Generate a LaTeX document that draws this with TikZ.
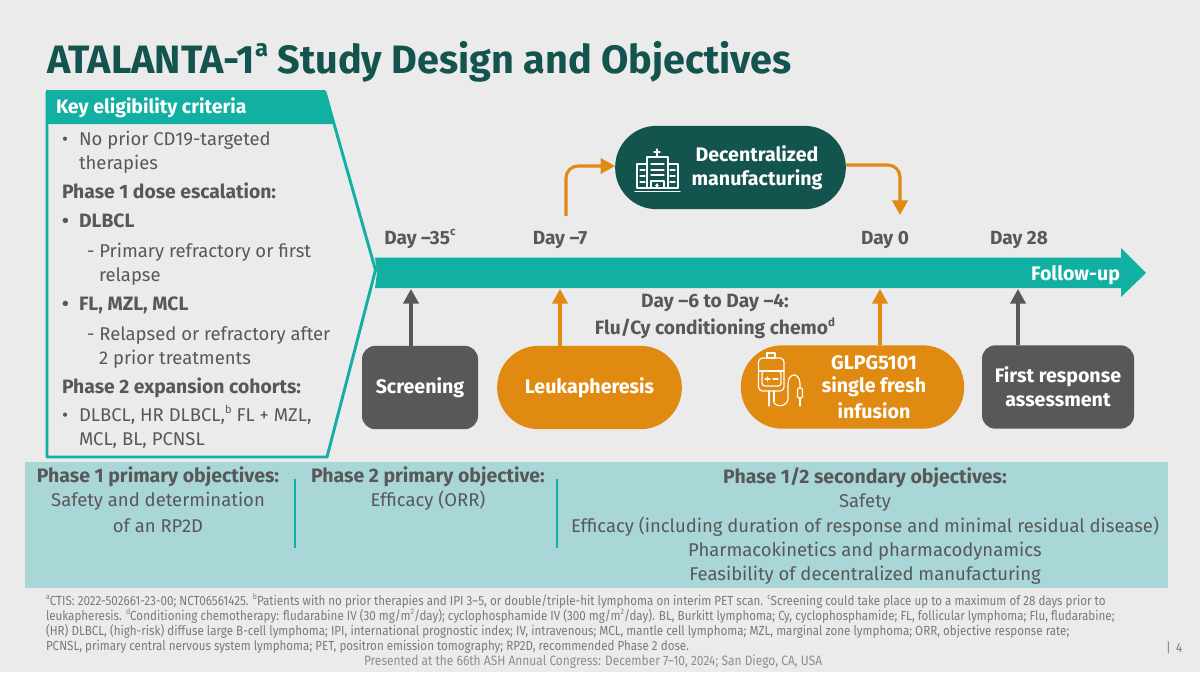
\documentclass[tikz,border=0pt]{standalone}
\usepackage{fontspec}
\setmainfont{Fira Sans}
\newfontfamily\notefont{Fira Sans}[FakeStretch=0.88]
\usetikzlibrary{arrows.meta}
\definecolor{bgc}{HTML}{EBEBEB}
\definecolor{tealc}{HTML}{12AFA3}
\definecolor{darkc}{HTML}{14544F}
\definecolor{orangec}{HTML}{E08A12}
\definecolor{grayc}{HTML}{58585A}
\definecolor{bandc}{HTML}{A9D6D6}
\definecolor{notec}{HTML}{7A7A7C}
\definecolor{footc}{HTML}{8E8E90}
\newcommand{\fs}[1]{\fontsize{#1}{#1}\selectfont}
\newcommand{\sups}[1]{\raisebox{0.42em}{\scalebox{0.6}{#1}}}
\tikzset{
 x=0.75pt,y=-0.75pt,
 txt/.style={inner sep=0,outer sep=0,text=grayc,align=center,font=\fs{13.85}},
 crit/.style={txt,anchor=base west,align=left},
 critb/.style={crit,font=\fs{14.5}\bfseries},
 obj/.style={txt,anchor=base},
 objb/.style={obj,font=\fs{14.6}\bfseries},
 daylab/.style={txt,anchor=base,font=\fs{14.3}\bfseries},
 note/.style={inner sep=0,outer sep=0,anchor=base west,text=notec,font=\fs{9.9}\notefont},
 pilltext/.style={inner sep=0,outer sep=0,text=white,align=center,font=\fs{14.7}\bfseries},
 graybox/.style={fill=grayc,draw=none,rounded corners=10pt,inner sep=0,outer sep=0,minimum height=62.5pt},
 oranpill/.style={fill=orangec,draw=none,rounded corners=31pt,inner sep=0,outer sep=0,minimum height=62.5pt},
 upg/.style={draw=grayc,line width=2.3pt,-{Triangle[length=11pt,width=11.5pt]}},
 upo/.style={draw=orangec,line width=2.3pt,-{Triangle[length=11pt,width=11.5pt]}},
 icon/.style={draw=white!90!bgc,line width=0.9pt,line join=round,line cap=round},
}
\begin{document}
\begin{tikzpicture}
\useasboundingbox (0,0) rectangle (1200,672);
\fill[bgc] (0,0) rectangle (1200,672);

% title
\node[inner sep=0,outer sep=0,anchor=base west,text=darkc,font=\fs{29.7}\bfseries] (title) at (47,73) {ATALANTA-1\sups{a} Study Design and Objectives};

% panel
\draw[tealc,line width=2.2pt,line join=round] (47,92) -- (325,92) -- (375.5,270) -- (327,457) -- (47,457) -- cycle;
\fill[tealc] (46,90) -- (325,90) -- (334,124) -- (46,124) -- cycle;
\node[inner sep=0,outer sep=0,anchor=base west,text=white,font=\fs{14.6}\bfseries] (keyh) at (56,113.5) {Key eligibility criteria};

\node[crit] (b1) at (62,145) {•};
\node[crit] (c1) at (79,145) {No prior CD19-targeted};
\node[crit] (c1b) at (79,169) {therapies};
\node[critb] (c2) at (62,198) {Phase 1 dose escalation:};
\node[critb] (b3) at (62,227) {•};
\node[critb] (c3) at (79,227) {DLBCL};
\node[crit] (c4) at (87,257) {- Primary refractory or first};
\node[crit] (c4b) at (99,281) {relapse};
\node[critb] (b5) at (62,310) {•};
\node[critb] (c5) at (79,310) {FL, MZL, MCL};
\node[crit] (c6) at (87,340) {- Relapsed or refractory after};
\node[crit] (c6b) at (99,364) {2 prior treatments};
\node[critb] (c7) at (62,393) {Phase 2 expansion cohorts:};
\node[crit] (b8) at (62,421) {•};
\node[crit] (c8) at (79,421) {DLBCL, HR DLBCL,\sups{b} FL + MZL,};
\node[crit] (c8b) at (79,445) {MCL, BL, PCNSL};

% timeline
\fill[tealc] (375,257.5) -- (1121,257.5) -- (1121,248) -- (1146,273) -- (1121,297) -- (1121,288) -- (375,288) -- (377,273) -- cycle;
\node[inner sep=0,outer sep=0,anchor=base east,text=white,font=\fs{14.7}\bfseries] (fu) at (1120,280) {Follow-up};
\coordinate (t1) at (411,289);
\coordinate (t2) at (560,289);
\coordinate (t3) at (880,289);
\coordinate (t4) at (1018,289);
\coordinate (t5) at (566,216);
\coordinate (t6) at (900,215);

\node[daylab] (d1) at (420,244) {Day –35\sups{c}};
\node[daylab] (d2) at (560,244) {Day –7};
\node[daylab] (d3) at (885,244) {Day 0};
\node[daylab] (d4) at (1019,244) {Day 28};
\node[txt,font=\fs{14.4}\bfseries,anchor=center] (cond) at (715,316.5) {Day –6 to Day –4:\\[3pt]Flu/Cy conditioning chemo\sups{d}};

% boxes
\node[graybox,minimum width=87pt] (scr) at (420,387.5) {};
\node[pilltext] at (scr) {Screening};
\node[oranpill,minimum width=138.5pt] (leu) at (589.5,387.5) {};
\node[pilltext] at (leu) {Leukapheresis};
\node[oranpill,minimum width=167.5pt] (inf) at (852.5,387) {};
\node[pilltext] (inft) at (874,387) {GLPG5101\\[3pt]single fresh\\[3pt]infusion};
\node[graybox,minimum width=114pt] (fra) at (1058,387) {};
\node[pilltext] at (fra) {First response\\[3pt]assessment};
\node[fill=darkc,draw=none,rounded corners=31pt,inner sep=0,outer sep=0,minimum width=173pt,minimum height=62.5pt] (dm) at (730.5,167.5) {};
\node[pilltext] (dmt) at (757,167.5) {Decentralized\\[3pt]manufacturing};

% connectors
\draw[upg] (scr.north -| t1) -- (t1);
\draw[upo] (leu.north -| t2) -- (t2);
\draw[upo] (inf.north -| t3) -- (t3);
\draw[upg] (fra.north -| t4) -- (t4);
\draw[upo,rounded corners=9pt] (t5) -- (566,166) -- (dm.west |- 0,166);
\draw[upo,rounded corners=9pt] (dm.east |- 0,165) -- (900,165) -- (t6);

% hospital icon
\begin{scope}[icon]
 \draw (635,191.5) -- (680,191.5);
 \draw (637,188) -- (678,188);
 \draw (637,188) -- (637,164) -- (647,164) -- (647,188);
 \draw (678,188) -- (678,164) -- (668,164) -- (668,188);
 \draw (647,188) -- (647,157) -- (668,157) -- (668,188);
 \draw (651,164) -- (664,164) (651,170) -- (664,170) (651,175) -- (664,175);
 \draw (640,170) -- (645,170) (640,176) -- (645,176) (640,182) -- (645,182);
 \draw (670,170) -- (675,170) (670,176) -- (675,176) (670,182) -- (675,182);
 \draw (651,188) -- (651,181) -- (664,181) -- (664,188);
 \draw (657,184) -- (657,187) (655.5,185.5) -- (658.5,185.5);
 \draw (657,157) -- (657,155) (654,152) -- (660,152) (657,149) -- (657,155);
\end{scope}

% infusion icon
\begin{scope}[icon]
 \draw (767,353) rectangle (775,358);
 \draw[rounded corners=3pt] (758.5,358) rectangle (784,391);
 \draw (759,371) -- (784,371);
 \draw[rounded corners=2pt] (762,371) rectangle (781,386);
 \draw (765,379) -- (770,379) (767.5,377) -- (767.5,381) (773,379) -- (778,379);
 \draw (769,391) -- (769,406) (774,391) -- (774,402);
 \draw (774,403) .. controls (779,408) and (788,406) .. (788,398) -- (788,384) .. controls (788,372) and (800,372) .. (800,384) -- (800,388);
 \draw[rounded corners=1pt] (797.5,388) rectangle (802.5,398);
 \draw (800,398) -- (800,406);
\end{scope}

% band
\fill[bandc] (25,462) rectangle (1168,588);
\draw[tealc,line width=1pt] (295,479) -- (295,548);
\draw[tealc,line width=1pt] (557,479) -- (557,548);
\node[objb] (o1) at (158,482) {Phase 1 primary objectives:};
\node[obj] (o1a) at (158,506) {Safety and determination};
\node[obj] (o1b) at (158,532) {of an RP2D};
\node[objb] (o2) at (428,482) {Phase 2 primary objective:};
\node[obj] (o2a) at (428,506) {Efficacy (ORR)};
\node[objb] (o3) at (865,483) {Phase 1/2 secondary objectives:};
\node[obj] (o3a) at (865,507) {Safety};
\node[obj] (o3b) at (865,532) {Efficacy (including duration of response and minimal residual disease)};
\node[obj] (o3c) at (865,556) {Pharmacokinetics and pharmacodynamics};
\node[obj] (o3d) at (865,580) {Feasibility of decentralized manufacturing};

% footnotes
\node[note] (n1) at (46,605) {\sups{a}CTIS: 2022-502661-23-00; NCT06561425. \sups{b}Patients with no prior therapies and IPI 3–5, or double/triple-hit lymphoma on interim PET scan. \sups{c}Screening could take place up to a maximum of 28 days prior to};
\node[note] (n2) at (46,620) {leukapheresis. \sups{d}Conditioning chemotherapy: fludarabine IV (30 mg/m\sups{2}/day); cyclophosphamide IV (300 mg/m\sups{2}/day). BL, Burkitt lymphoma; Cy, cyclophosphamide; FL, follicular lymphoma; Flu, fludarabine;};
\node[note] (n3) at (46,635) {(HR) DLBCL, (high-risk) diffuse large B-cell lymphoma; IPI, international prognostic index; IV, intravenous; MCL, mantle cell lymphoma; MZL, marginal zone lymphoma; ORR, objective response rate;};
\node[note] (n4) at (46,650) {PCNSL, primary central nervous system lymphoma; PET, positron emission tomography; RP2D, recommended Phase 2 dose.};
\node[note,text=footc,font=\fs{10.2}\notefont] (n5) at (364,665) {Presented at the 66th ASH Annual Congress: December 7–10, 2024; San Diego, CA, USA};
\node[note] (pg) at (1166,652) {|\hspace{4pt}4};
\end{tikzpicture}
\end{document}
